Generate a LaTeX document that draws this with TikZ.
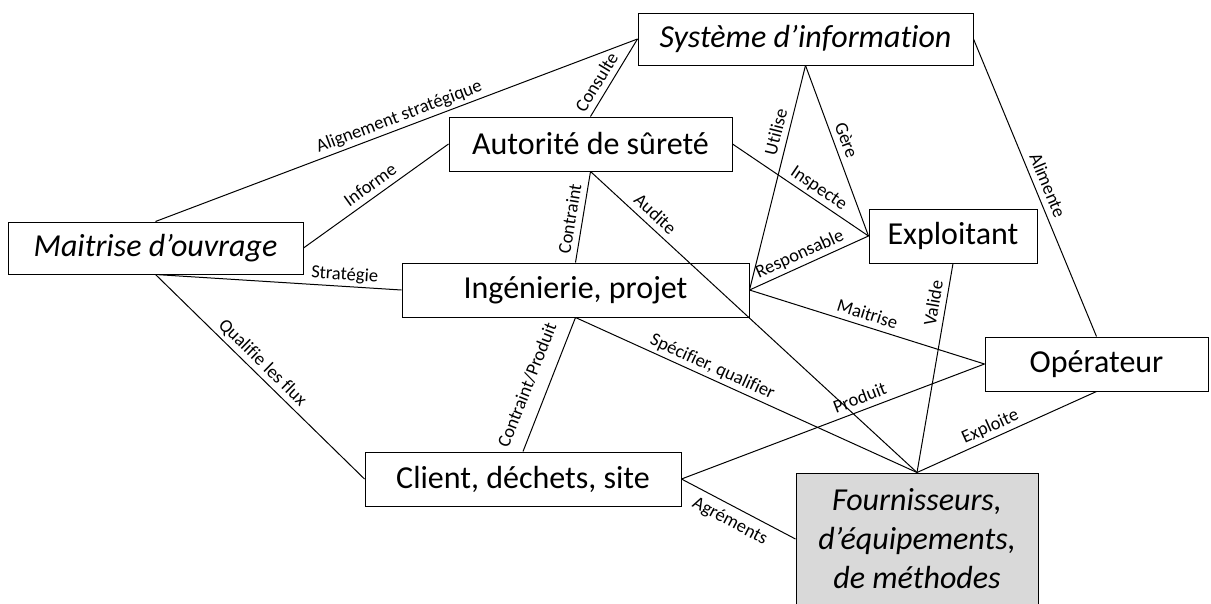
\documentclass[tikz,border=0pt]{standalone}
\usepackage{fontspec}
\setmainfont[Ligatures={NoCommon}]{Carlito}
\definecolor{fogray}{HTML}{D9D9D9}
\begin{document}
\begin{tikzpicture}[x=1pt,y=-1pt,
  box/.style={draw=black, line width=1pt, inner sep=0pt, font=\fontsize{32}{39}\selectfont, align=center},
  lbl/.style={font=\fontsize{18.5}{20}\selectfont, sloped, inner sep=2pt, text height=12.5pt, text depth=4pt},
  link/.style={draw=black, line width=1pt}]
\useasboundingbox (0,0) rectangle (1211,603);
\clip (0,0) rectangle (1211,603);
\fill[white] (0,0) rectangle (1211,603);

\node[box, minimum width=335pt, minimum height=52pt] (si) at (805.5,39) {\itshape Système d’information};
\node[box, minimum width=283pt, minimum height=54pt] (as) at (590.5,144) {Autorité de sûreté};
\node[box, minimum width=295pt, minimum height=52pt] (mo) at (155.5,248) {\itshape Maitrise d’ouvrage};
\node[box, minimum width=168pt, minimum height=54pt] (ex) at (953,236) {Exploitant};
\node[box, minimum width=347pt, minimum height=54pt] (ip) at (575.5,290) {Ingénierie, projet};
\node[box, minimum width=223pt, minimum height=54pt] (op) at (1096.5,364) {Opérateur};
\node[box, minimum width=316pt, minimum height=54pt] (cl) at (523,479) {Client, déchets, site};
\node[box, fill=fogray, minimum width=242pt, minimum height=132pt] (fo) at (917,539) {\itshape Fournisseurs,\\ \itshape d’équipements,\\ \itshape de méthodes};

\draw[link] (mo.north) -- node[lbl, pos=0.514, above] {Alignement stratégique} (si.west);
\draw[link] (mo.east) -- node[lbl, pos=0.51, above] {Informe} (as.west);
\draw[link] (mo.south) -- node[lbl, pos=0.766, above] {Stratégie} (ip.west);
\draw[link] (mo.south) -- node[lbl, pos=0.473, above] {Qualifie les flux} (cl.west);
\draw[link] (as.north) -- node[lbl, pos=0.36, above] {Consulte} (si.west);
\draw[link] (ip.north) -- node[lbl, pos=0.456, above] {Contraint} (as.south);
\draw[link] (as.south) -- node[lbl, pos=0.172, above] {Audite} (fo.north);
\draw[link] (as.east) -- node[lbl, pos=0.586, above] {Inspecte} (ex.west);
\draw[link] (ip.east) -- node[lbl, pos=0.69, above] {Utilise} (si.south);
\draw[link] (si.south) -- node[lbl, pos=0.463, above] {Gère} (ex.west);
\draw[link] (si.east) -- node[lbl, pos=0.508, above] {Alimente} (op.north);
\draw[link] (ip.east) -- node[lbl, pos=0.463, above] {Responsable} (ex.west);
\draw[link] (ip.east) -- node[lbl, pos=0.486, above] {Maitrise} (op.west);
\draw[link] (cl.north) -- node[lbl, pos=0.441, above, inner sep=10pt] {Contraint/Produit} (ip.south);
\draw[link] (ip.south) -- node[lbl, pos=0.387, above] {Spécifier, qualifier} (fo.north);
\draw[link] (cl.east) -- node[lbl, pos=0.603, above] {Produit} (op.west);
\draw[link] (cl.east) -- node[lbl, pos=0.485, below, inner sep=7pt] {Agréments} (fo.west);
\draw[link] (fo.north) -- node[lbl, pos=0.80, above] {Valide} (ex.south);
\draw[link] (fo.north) -- node[lbl, pos=0.434, above] {Exploite} (op.south);
\end{tikzpicture}
\end{document}
